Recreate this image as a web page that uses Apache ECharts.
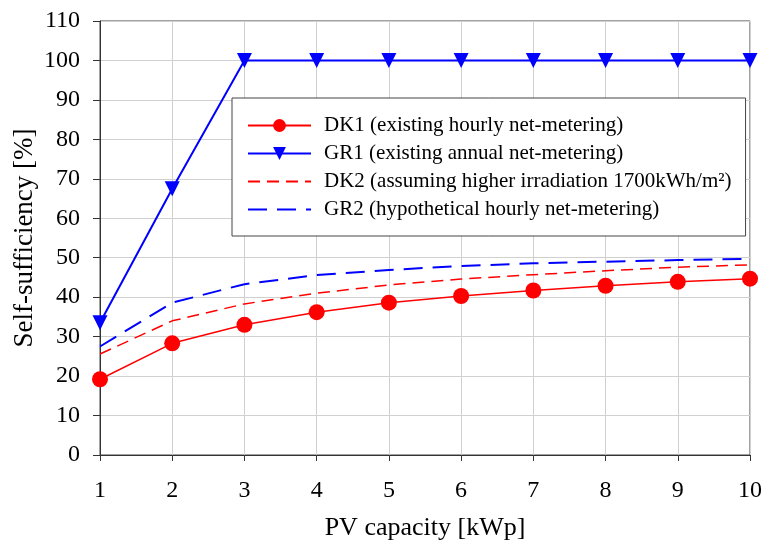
<!DOCTYPE html>
<html>
<head>
<meta charset="utf-8">
<script src="https://cdn.jsdelivr.net/npm/echarts@6/dist/echarts.min.js"></script>
<style>
    html, body { margin: 0; padding: 0; background: #fff; }
    #chart { width: 766px; height: 542px; }
</style>
</head>
<body>
<div id="chart"></div>
<script>
    // PV capacity [kWp]
    const pvCapacity = [1, 2, 3, 4, 5, 6, 7, 8, 9, 10];
    // self-sufficiency [%]
    const dk1 = [19.2, 28.3, 33.0, 36.2, 38.6, 40.3, 41.7, 42.9, 43.9, 44.7];
    const gr1 = [33.5, 67.5, 100, 100, 100, 100, 100, 100, 100, 100];
    const dk2 = [25.6, 34.0, 38.3, 41.0, 43.1, 44.6, 45.7, 46.7, 47.6, 48.2];
    const gr2 = [27.5, 38.6, 43.3, 45.6, 46.9, 47.9, 48.6, 49.0, 49.4, 49.7];

    const seriesNames = [
        'DK1 (existing hourly net-metering)',
        'GR1 (existing annual net-metering)',
        'DK2 (assuming higher irradiation 1700kWh/m²)',
        'GR2 (hypothetical hourly net-metering)'
    ];

    const font = "'Liberation Serif', 'Times New Roman', serif";

    function pairs(vals) {
        return pvCapacity.map((x, i) => [x, vals[i]]);
    }

    const myChart = echarts.init(document.getElementById('chart'));
    myChart.setOption({
        animation: false,
        textStyle: { fontFamily: font, color: '#000' },
        grid: {
            left: 100,
            right: 16,
            top: 21,
            bottom: 87,
            outerBoundsMode: 'none',
            containLabel: false,
            show: true,
            borderColor: '#444',
            borderWidth: 1
        },
        legend: {
            data: [
                { name: seriesNames[0] },
                { name: seriesNames[1] },
                { name: seriesNames[2], itemStyle: { opacity: 0 } },
                { name: seriesNames[3], itemStyle: { opacity: 0 } }
            ],
            orient: 'vertical',
            left: 232,
            top: 98,
            padding: [17, 14, 16, 15],
            itemGap: 7,
            itemWidth: 63,
            itemHeight: 16,
            borderColor: '#444',
            borderWidth: 1,
            backgroundColor: '#fff',
            textStyle: { fontFamily: font, fontSize: 21, color: '#000', padding: [0, 0, 0, 8] }
        },
        xAxis: {
            type: 'value',
            min: 1,
            max: 10,
            interval: 1,
            name: 'PV capacity [kWp]',
            nameLocation: 'middle',
            nameGap: 60,
            nameMoveOverlap: false,
            nameTextStyle: { fontFamily: font, fontSize: 26, color: '#000' },
            axisLine: { lineStyle: { color: '#333' } },
            axisTick: { show: true, length: 6, lineStyle: { color: '#333' } },
            axisLabel: { fontFamily: font, fontSize: 24, color: '#000', margin: 24 },
            splitLine: { show: true, lineStyle: { color: '#d0d0d0' } }
        },
        yAxis: {
            type: 'value',
            min: 0,
            max: 110,
            interval: 10,
            name: 'Self-sufficiency [%]',
            nameLocation: 'middle',
            nameGap: 62,
            nameMoveOverlap: false,
            nameTextStyle: { fontFamily: font, fontSize: 27, color: '#000' },
            axisLine: { show: true, lineStyle: { color: '#333' } },
            axisTick: { show: true, length: 7, lineStyle: { color: '#333' } },
            axisLabel: { fontFamily: font, fontSize: 24, color: '#000', margin: 20 },
            splitLine: { show: true, lineStyle: { color: '#d0d0d0' } }
        },
        series: [
            {
                name: seriesNames[0],
                type: 'line',
                data: pairs(dk1),
                symbol: 'circle',
                symbolSize: 16,
                color: '#ff0000',
                lineStyle: { color: '#ff0000', width: 1.5 },
                z: 5
            },
            {
                name: seriesNames[1],
                type: 'line',
                data: pairs(gr1),
                symbol: 'triangle',
                symbolRotate: 180,
                symbolSize: 15,
                color: '#0000ff',
                lineStyle: { color: '#0000ff', width: 2 },
                z: 5
            },
            {
                name: seriesNames[2],
                type: 'line',
                data: pairs(dk2),
                symbol: 'none',
                color: '#ff0000',
                lineStyle: { color: '#ff0000', width: 1.5, type: [12, 7] }
            },
            {
                name: seriesNames[3],
                type: 'line',
                data: pairs(gr2),
                symbol: 'none',
                color: '#0000ff',
                lineStyle: { color: '#0000ff', width: 2, type: [19, 10] }
            }
        ]
    });
</script>
</body>
</html>
